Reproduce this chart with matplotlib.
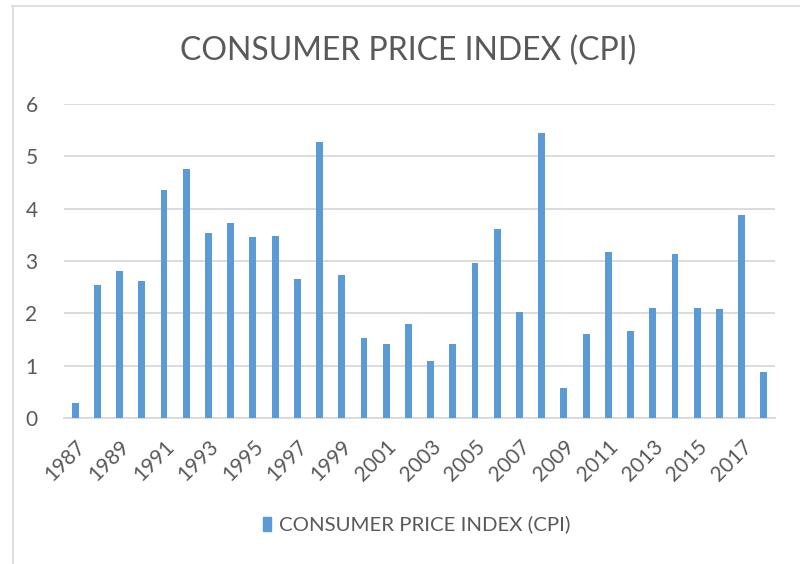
import matplotlib
matplotlib.use("Agg")
import matplotlib.pyplot as plt
from matplotlib.patches import Rectangle
from matplotlib.lines import Line2D

years = list(range(1987, 2019))
cpi = [0.29, 2.54, 2.80, 2.61, 4.36, 4.76, 3.53, 3.72, 3.45, 3.48,
       2.66, 5.27, 2.73, 1.53, 1.41, 1.80, 1.08, 1.41, 2.97, 3.61,
       2.02, 5.44, 0.57, 1.61, 3.17, 1.66, 2.10, 3.14, 2.10, 2.09,
       3.87, 0.88]
yticks = [0, 1, 2, 3, 4, 5, 6]
series_name = "CONSUMER PRICE INDEX (CPI)"

plt.rcParams['font.family'] = ['Lato', 'DejaVu Sans']
txt_color = '#595959'
bar_color = '#5B9BD5'
grid_color = '#d9d9d9'

fig = plt.figure(figsize=(8.0, 5.64), dpi=100)
W, H = 800, 564
ax = fig.add_axes([64 / W, (H - 418) / H, (775 - 64) / W, (418 - 104) / H])

x = list(range(len(years)))
ax.bar(x, cpi, width=0.31, color=bar_color, zorder=3)
ax.set_xlim(-0.5, len(years) - 0.5)
ax.set_ylim(0, 6)
ax.set_yticks(yticks)
ax.set_yticklabels([str(v) for v in yticks])
ax.yaxis.grid(True, color=grid_color, linewidth=1.3, zorder=0)
for s in ['top', 'right', 'left']:
    ax.spines[s].set_visible(False)
ax.spines['bottom'].set_color(grid_color)
ax.spines['bottom'].set_linewidth(1.3)
ax.tick_params(axis='y', length=0, pad=19, labelsize=15, labelcolor=txt_color)
ax.tick_params(axis='x', length=0, pad=13, labelsize=15, labelcolor=txt_color)

xt = x[::2]
ax.set_xticks(xt)
ax.set_xticklabels([str(years[i]) for i in xt], rotation=45, ha='right',
                   va='top', rotation_mode='anchor')

fig.text(0.51, (H - 51) / H, series_name, ha='center', va='center',
         fontsize=23, color=txt_color)

# legend
fig.patches.append(Rectangle((263 / W, (H - 531) / H), 8 / W, 14 / H,
                             transform=fig.transFigure, color=bar_color))
fig.text(279 / W, (H - 524) / H, series_name, ha='left', va='center',
         fontsize=14.7, color=txt_color)

# chart border
fig.lines.append(Line2D([12 / W, 1], [(H - 5.5) / H] * 2, transform=fig.transFigure,
                        color=grid_color, linewidth=1.2))
fig.lines.append(Line2D([12.5 / W] * 2, [0, (H - 5.5) / H], transform=fig.transFigure,
                        color=grid_color, linewidth=1.2))

fig.savefig("out.png", dpi=100, facecolor='white')
